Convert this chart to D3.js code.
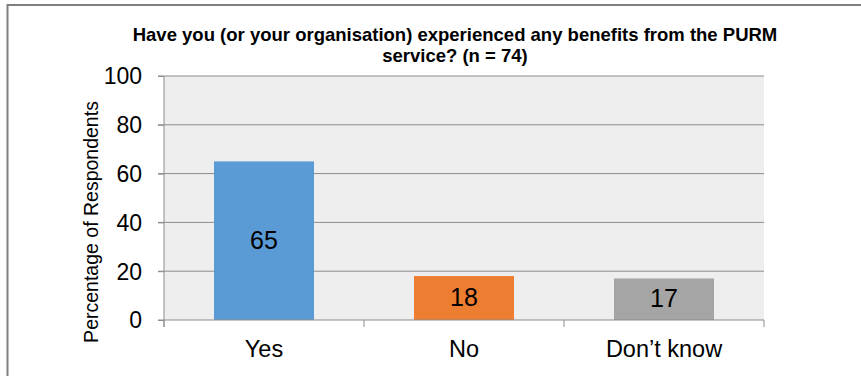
<!DOCTYPE html>
<html><head><meta charset="utf-8">
<script src="https://cdn.jsdelivr.net/npm/d3@7"></script>
<style>body{margin:0;background:#fff}</style>
</head><body>
<svg id="c" width="861" height="376"></svg>
<script>
const categories = ["Yes", "No", "Don\u2019t know"];
const values = [65, 18, 17];
const colors = ["#5b9bd5", "#ed7d31", "#a5a5a5"];
const yTicks = [0, 20, 40, 60, 80, 100];
const titleLines = ["Have you (or your organisation) experienced any benefits from the PURM", "service? (n = 74)"];
const yTitle = "Percentage of Respondents";

const FONT = "Liberation Sans, Arial, sans-serif";
const svg = d3.select("#c");
svg.append("rect").attr("x", 7.5).attr("y", 5).attr("width", 900).attr("height", 400)
  .attr("fill", "#fff").attr("stroke", "#7f7f7f").attr("stroke-width", 2);

const m = {l: 164, r: 764, t: 76, b: 320};
const x = d3.scaleBand().domain(categories).range([m.l, m.r]).paddingInner(0.5).paddingOuter(0.25);
const y = d3.scaleLinear().domain([0, 100]).range([m.b, m.t]);

svg.append("rect").attr("x", m.l).attr("y", m.t).attr("width", m.r - m.l).attr("height", m.b - m.t).attr("fill", "#eeeeee");

// grid
svg.append("g").selectAll("line").data(yTicks.filter(d => d > 0)).join("line")
  .attr("x1", m.l - 6).attr("x2", m.r).attr("y1", d => y(d)).attr("y2", d => y(d))
  .attr("stroke", "#8c8c8c").attr("stroke-width", 1);

// bars
svg.selectAll("rect.bar").data(values).join("rect").attr("class", "bar")
  .attr("x", (d, i) => x(categories[i])).attr("width", x.bandwidth())
  .attr("y", d => y(d)).attr("height", d => y(0) - y(d)).attr("fill", (d, i) => colors[i]);

// axes
const yAxis = d3.axisLeft(y).tickValues(yTicks).tickSize(6).tickPadding(16);
const ya = svg.append("g").attr("transform", `translate(${m.l},0)`).call(yAxis);
ya.select(".domain").attr("stroke", "#8c8c8c").attr("d", `M0,${m.t}V${m.b + 7}`);
ya.selectAll(".tick line").attr("stroke", "#8c8c8c");
ya.selectAll("text").attr("font-family", FONT).attr("font-size", 23).attr("fill", "#000").attr("dy", "0.34em");

const bounds = d3.range(categories.length + 1).map(i => m.l + i * x.step());
svg.append("line").attr("x1", m.l - 6).attr("x2", m.r).attr("y1", m.b).attr("y2", m.b).attr("stroke", "#8c8c8c");
svg.selectAll("line.xt").data(bounds).join("line").attr("class", "xt")
  .attr("x1", d => d).attr("x2", d => d).attr("y1", m.b).attr("y2", m.b + 7).attr("stroke", "#8c8c8c");

svg.selectAll("text.cat").data(categories).join("text").attr("class", "cat")
  .attr("x", d => x(d) + x.bandwidth() / 2).attr("y", 357).attr("text-anchor", "middle")
  .attr("font-family", FONT).attr("font-size", 23.5).text(d => d);

svg.selectAll("text.val").data(values).join("text").attr("class", "val")
  .attr("x", (d, i) => x(categories[i]) + x.bandwidth() / 2).attr("y", d => (y(d) + y(0)) / 2 + 8)
  .attr("text-anchor", "middle").attr("font-family", FONT).attr("font-size", 25).text(d => d);

svg.append("text").attr("transform", `translate(98,${222}) rotate(-90)`).attr("text-anchor", "middle")
  .attr("font-family", FONT).attr("font-size", 19.5).text(yTitle);

svg.selectAll("text.title").data(titleLines).join("text").attr("class", "title")
  .attr("x", 455).attr("y", (d, i) => 41 + i * 21).attr("text-anchor", "middle")
  .attr("font-family", FONT).attr("font-weight", "bold").attr("font-size", 18.5)
  .text(d => d);
</script>
</body></html>
